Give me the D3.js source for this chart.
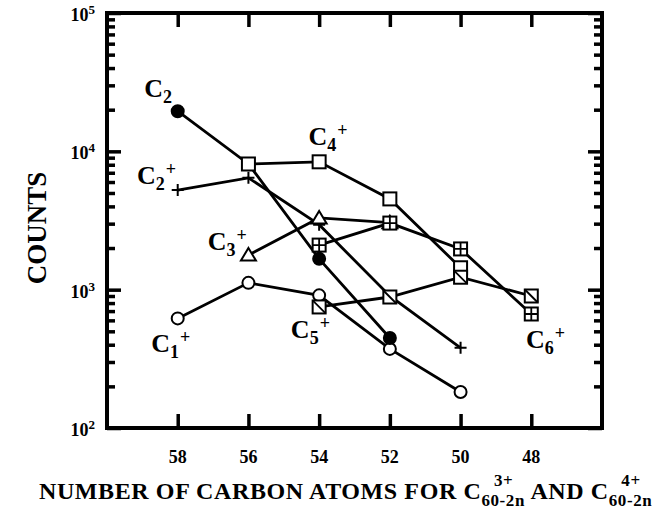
<!DOCTYPE html>
<html>
<head>
<meta charset="utf-8">
<style>
	body { margin: 0; background: #fff; }
	.lbl { font-family: "Liberation Serif", "DejaVu Serif", serif; font-weight: 700; fill: #000; }
	.series-line { fill: none; stroke: #000; stroke-width: 2.8; }
	.mk { stroke: #000; stroke-width: 2; fill: #fff; }
</style>
</head>
<body>
<div class="vis-counts"></div>
<script src="https://cdnjs.cloudflare.com/ajax/libs/d3/7.8.5/d3.min.js"></script>
<script>

	// Data //
	// -------------------------- //
	const xTicks = [58, 56, 54, 52, 50, 48];
	const yDecades = [100, 1000, 10000, 100000];

	const c1pX = [58, 56, 54, 52, 50];
	const c1pY = [620, 1120, 910, 373, 182];

	const c2X = [58, 56, 54, 52];
	const c2Y = [19500, 8100, 1670, 447];

	const c2pX = [58, 56, 54, 52, 50];
	const c2pY = [5250, 6430, 2950, 900, 380];

	const c3pX = [56, 54, 52];
	const c3pY = [1780, 3300, 3050];

	const c4pX = [56, 54, 52, 50];
	const c4pY = [8100, 8400, 4530, 1440];

	const c5pX = [54, 52, 50, 48];
	const c5pY = [750, 885, 1230, 900];

	const c6pX = [54, 52, 50, 48];
	const c6pY = [2100, 3030, 1970, 667];

	// series label anchors: carbon number, counts at the baseline of "C"
	const labelNames = ["2", "4", "2", "3", "1", "5", "6"];
	const labelCharge = ["", "+", "+", "+", "+", "+", "+"];
	const labelAtX = [58.95, 54.3, 59.15, 57.15, 58.75, 54.8, 48.15];
	const labelAtY = [24500, 11200, 5800, 1940, 354, 448, 379];

	// Setup //
	// ----- //
	let W = 665, H = 510;
	let margin = {top: 13, right: 63, bottom: 82, left: 107},
		width = W - margin.left - margin.right,
		height = H - margin.top - margin.bottom;

	let x = d3.scaleLinear().domain([60, 46]).range([0, width]);
	let y = d3.scaleLog().domain([100, 100000]).range([height, 0]);

	let svg = d3.select(".vis-counts")
		.append("svg")
			.attr("width", W)
			.attr("height", H)
		.append("g")
			.attr("transform", "translate(" + margin.left + "," + margin.top + ")");

	// minor ticks on the log axis
	let minors = y.ticks().filter(v => yDecades.indexOf(v) < 0);

	function tickAxis(axis, values, size, transform) {
		let g = svg.append("g")
			.attr("transform", transform)
			.call(axis.tickValues(values).tickSize(size).tickSizeOuter(0).tickFormat(""));
		g.select(".domain").remove();
		g.selectAll(".tick line").attr("stroke", "#000").attr("stroke-width", 3.5);
		return g;
	}

	// Y ticks, left and right, pointing inwards
	tickAxis(d3.axisLeft(y), yDecades, -14, "translate(0,0)");
	tickAxis(d3.axisLeft(y), minors, -8, "translate(0,0)");
	tickAxis(d3.axisRight(y), yDecades, -14, "translate(" + width + ",0)");
	tickAxis(d3.axisRight(y), minors, -8, "translate(" + width + ",0)");

	// X ticks, bottom and top
	tickAxis(d3.axisBottom(x), xTicks, -14, "translate(0," + height + ")");
	tickAxis(d3.axisTop(x), xTicks, -14, "translate(0,0)");

	// Frame
	svg.append("rect")
		.attr("x", 0).attr("y", 0)
		.attr("width", width).attr("height", height)
		.style("fill", "none")
		.style("stroke", "#000")
		.style("stroke-width", 4);

	// X tick labels
	svg.selectAll(".xlab")
		.data(xTicks).enter().append("text")
		.attr("class", "lbl")
		.attr("x", d => x(d))
		.attr("y", height + 35)
		.style("text-anchor", "middle")
		.style("font-size", "18px")
		.text(d => d);

	// Y tick labels: 10^n
	let ylab = svg.selectAll(".ylab")
		.data(yDecades).enter().append("text")
		.attr("class", "lbl")
		.attr("x", -12)
		.attr("y", d => y(d) + 8)
		.style("text-anchor", "end")
		.style("font-size", "18px");
	ylab.append("tspan").text("10");
	ylab.append("tspan")
		.attr("dy", -7)
		.style("font-size", "13px")
		.text(d => Math.round(Math.log10(d)));

	// Y title
	svg.append("text")
		.attr("class", "lbl")
		.attr("transform", "rotate(-90)")
		.attr("x", -215)
		.attr("y", -61)
		.style("text-anchor", "middle")
		.style("font-size", "27px")
		.text("COUNTS");

	// X title
	let xt = svg.append("text")
		.attr("class", "lbl")
		.attr("x", -68)
		.attr("y", height + 71)
		.style("font-size", "24px")
		.style("letter-spacing", "0.6px");
	xt.append("tspan").text("NUMBER OF CARBON ATOMS FOR C");
	xt.append("tspan").attr("dy", 7).style("font-size", "17px").text("60-2n");
	xt.append("tspan").attr("dx", -31).attr("dy", -20).style("font-size", "17px").text("3+");
	xt.append("tspan").attr("dx", 17).attr("dy", 13).text("AND C");
	xt.append("tspan").attr("dy", 7).style("font-size", "17px").text("60-2n");
	xt.append("tspan").attr("dx", -31).attr("dy", -20).style("font-size", "17px").text("4+");

	// Lines //
	// ----- //
	let valueline = d3.line()
		.x(d => x(d[0]))
		.y(d => y(d[1]));

	function zip(a, b) {
		return a.map((e, i) => [e, b[i]]);
	}

	let series = [
		{xs: c1pX, ys: c1pY, mark: "circle"},
		{xs: c2pX, ys: c2pY, mark: "plus"},
		{xs: c3pX, ys: c3pY, mark: "triangle"},
		{xs: c2X, ys: c2Y, mark: "dot"},
		{xs: c4pX, ys: c4pY, mark: "square"},
		{xs: c5pX, ys: c5pY, mark: "diag"},
		{xs: c6pX, ys: c6pY, mark: "cross"}
	];

	series.forEach(s => {
		svg.append("path")
			.datum(zip(s.xs, s.ys))
			.attr("class", "series-line")
			.attr("d", valueline);
	});

	// Markers //
	// ------- //
	function drawMark(kind, px, py) {
		let g = svg.append("g").attr("transform", "translate(" + px + "," + py + ")");
		let h = 6.5;
		if (kind == "circle" || kind == "dot") {
			g.append("circle").attr("class", "mk").attr("r", 6)
				.style("fill", kind == "dot" ? "#000" : "#fff");
		} else if (kind == "plus") {
			g.append("path").attr("d", "M-6,0H6M0,-6V6")
				.style("stroke", "#000").style("stroke-width", 2);
		} else if (kind == "triangle") {
			g.append("path").attr("class", "mk").attr("d", "M0,-7L7.5,5.5H-7.5Z");
		} else {
			g.append("rect").attr("class", "mk")
				.attr("x", -h).attr("y", -h).attr("width", 2 * h).attr("height", 2 * h);
			if (kind == "diag") {
				g.append("path").attr("d", "M-6.5,-6.5L6.5,6.5").style("stroke", "#000").style("stroke-width", 1.8);
			}
			if (kind == "cross") {
				g.append("path").attr("d", "M-6.5,0H6.5M0,-6.5V6.5").style("stroke", "#000").style("stroke-width", 1.8);
			}
		}
	}

	series.forEach(s => {
		zip(s.xs, s.ys).forEach(d => drawMark(s.mark, x(d[0]), y(d[1])));
	});

	// Series labels //
	// ------------- //
	labelNames.forEach((n, i) => {
		let t = svg.append("text")
			.attr("class", "lbl")
			.attr("x", x(labelAtX[i]))
			.attr("y", y(labelAtY[i]))
			.style("font-size", "26px");
		t.append("tspan").text("C");
		t.append("tspan").attr("dy", 6).style("font-size", "18px").text(n);
		if (labelCharge[i]) {
			t.append("tspan").attr("dy", -15).attr("dx", 1).style("font-size", "18px").text(labelCharge[i]);
		}
	});
</script>
</body>
</html>
